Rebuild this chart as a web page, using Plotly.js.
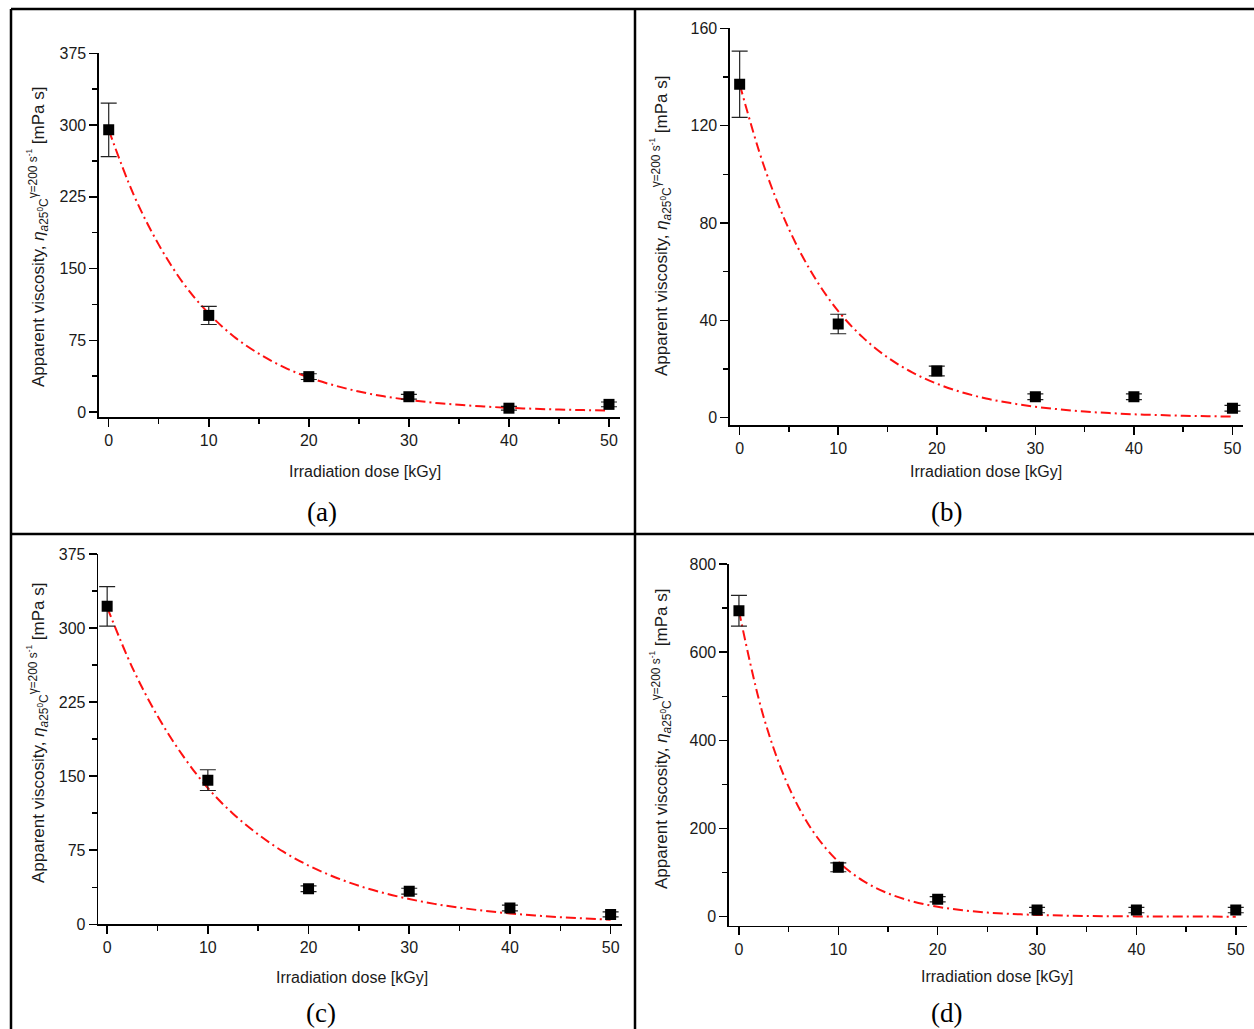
<!DOCTYPE html>
<html>
<head>
<meta charset="utf-8">
<script src="https://cdn.plot.ly/plotly-3.0.1.min.js"></script>
<style>html,body{margin:0;padding:0;background:#fff;}#chart{width:1254px;height:1029px;}</style>
</head>
<body>
<div id="chart"></div>
<script>
// ---- data ----
const doses = [0, 10, 20, 30, 40, 50];

const viscA = [295, 101, 37, 16, 4, 8];
const errA  = [28, 9.5, 3, 2.5, 2, 2.5];
const viscB = [137, 38.5, 19.2, 8.6, 8.6, 3.9];
const errB  = [13.6, 4, 2, 1.2, 1.2, 1.2];
const viscC = [322, 146, 36, 33.5, 16.5, 10];
const errC  = [20, 10.5, 3, 3, 3, 2.5];
const viscD = [694, 112, 39.5, 15, 15, 15];
const errD  = [35, 10, 6, 6, 6, 6];

const fitDose = [0, 2.5, 5, 7.5, 10, 12.5, 15, 17.5, 20, 22.5, 25, 27.5, 30, 32.5, 35, 37.5, 40, 42.5, 45, 47.5, 50];
const fitA = [295, 227, 175, 134, 103, 79, 61, 47, 36, 28, 21.4, 16.4, 12.7, 9.7, 7.5, 5.8, 4.4, 3.4, 2.6, 2.0, 1.6];
const fitB = [137, 103, 77.5, 58.3, 43.8, 33.0, 24.8, 18.6, 14.0, 10.5, 7.9, 6.0, 4.5, 3.4, 2.5, 1.9, 1.4, 1.1, 0.8, 0.6, 0.46];
const fitC = [321, 260, 211, 171, 138, 112, 91, 73.5, 59.5, 48.2, 39.0, 31.6, 25.6, 20.7, 16.8, 13.6, 11.0, 8.9, 7.2, 5.9, 4.7];
const fitD = [694, 452, 295, 192, 125, 81.4, 53, 34.5, 22.5, 14.7, 9.5, 6.2, 4.0, 2.6, 1.7, 1.1, 0.73, 0.48, 0.31, 0.2, 0.13];

const xTicks = [0, 10, 20, 30, 40, 50];
const yTicksA = [0, 75, 150, 225, 300, 375];
const yTicksB = [0, 40, 80, 120, 160];
const yTicksC = [0, 75, 150, 225, 300, 375];
const yTicksD = [0, 200, 400, 600, 800];

const panelLabels = ['(a)', '(b)', '(c)', '(d)'];
const xTitle = 'Irradiation dose [kGy]';
const yTitle = 'Apparent viscosity, <i>η</i><sub><i>a</i>25<sup>0</sup>C</sub><sup>γ=200 s<sup>-1</sup></sup> [mPa s]';

// ---- layout helpers ----
const W = 1254, H = 1029;
const X = p => p / W;
const Y = p => 1 - p / H;

const panels = [
  {v: viscA, e: errA, f: fitA, yt: yTicksA, xr: [-0.97, 51.1], yr: [-5.2, 375], ymin: 37.5,
   px: [99, 620], py: [53.3, 417], ytx: 37, yty: 237, xtx: 365, xty: 472, lx: 322, ly: 512},
  {v: viscB, e: errB, f: fitB, yt: yTicksB, xr: [-0.98, 51.1], yr: [-3, 160], ymin: 20,
   px: [730, 1243.3], py: [28.3, 425], ytx: 661, yty: 226, xtx: 986, xty: 472, lx: 946, ly: 512},
  {v: viscC, e: errC, f: fitC, yt: yTicksC, xr: [-0.88, 51.1], yr: [0, 375], ymin: 37.5,
   px: [98.3, 621.7], py: [554, 924.3], ytx: 37, yty: 733, xtx: 352, xty: 977, lx: 321, ly: 1013},
  {v: viscD, e: errD, f: fitD, yt: yTicksD, xr: [-1.0, 51.1], yr: [-20.4, 800], ymin: 100,
   px: [729, 1246.7], py: [564, 925.7], ytx: 660, yty: 739, xtx: 997, xty: 976, lx: 946, ly: 1013}
];

const tickFont = {family: 'Liberation Sans, Arial, sans-serif', size: 16, color: '#1a1a1a'};
const traces = [];
const layout = {
  width: W, height: H,
  margin: {l: 0, r: 0, t: 0, b: 0},
  paper_bgcolor: '#fff', plot_bgcolor: 'rgba(0,0,0,0)',
  showlegend: false,
  annotations: [],
  shapes: []
};

panels.forEach((p, i) => {
  const n = i + 1;
  const xa = 'x' + (n === 1 ? '' : n), ya = 'y' + (n === 1 ? '' : n);
  traces.push({
    x: fitDose, y: p.f, xaxis: xa, yaxis: ya, type: 'scatter', mode: 'lines',
    line: {color: '#f11', width: 2, dash: '10px,4px,2px,4px', shape: 'spline'},
    hoverinfo: 'skip'
  });
  traces.push({
    x: doses, y: p.v, xaxis: xa, yaxis: ya, type: 'scatter', mode: 'markers',
    marker: {symbol: 'square', size: 11, color: '#000'},
    error_y: {type: 'data', array: p.e, visible: true, color: '#222', thickness: 1.2, width: 8}
  });
  const axBase = {
    showline: true, linecolor: '#000', linewidth: 1.6,
    ticks: 'outside', ticklen: 8, tickwidth: 1.5, tickcolor: '#000',
    showgrid: false, zeroline: false, tickfont: tickFont, fixedrange: true
  };
  layout['xaxis' + (n === 1 ? '' : n)] = Object.assign({}, axBase, {
    domain: [X(p.px[0]), X(p.px[1])], range: p.xr, anchor: ya,
    tickmode: 'array', tickvals: xTicks,
    minor: {dtick: 5, tick0: 0, ticks: 'outside', ticklen: 5, tickwidth: 1.5, tickcolor: '#000'}
  });
  layout['yaxis' + (n === 1 ? '' : n)] = Object.assign({}, axBase, {
    domain: [Y(p.py[1]), Y(p.py[0])], range: p.yr, anchor: xa,
    tickmode: 'array', tickvals: p.yt,
    minor: {dtick: p.ymin, tick0: 0, ticks: 'outside', ticklen: 5, tickwidth: 1.5, tickcolor: '#000'}
  });
  layout.annotations.push({
    text: yTitle, xref: 'paper', yref: 'paper', x: X(p.ytx), y: Y(p.yty),
    xanchor: 'center', yanchor: 'middle', textangle: -90, showarrow: false,
    font: {family: 'Liberation Sans, Arial, sans-serif', size: 17, color: '#1a1a1a'}
  });
  layout.annotations.push({
    text: xTitle, xref: 'paper', yref: 'paper', x: X(p.xtx), y: Y(p.xty),
    xanchor: 'center', yanchor: 'middle', showarrow: false,
    font: {family: 'Liberation Sans, Arial, sans-serif', size: 16, color: '#1a1a1a'}
  });
  layout.annotations.push({
    text: panelLabels[i], xref: 'paper', yref: 'paper', x: X(p.lx), y: Y(p.ly),
    xanchor: 'center', yanchor: 'middle', showarrow: false,
    font: {family: 'Liberation Serif, Times New Roman, serif', size: 27, color: '#000'}
  });
});

// panel frame lines
const frame = [
  [11, 9, 1254, 9], [11, 9, 11, 1029], [635, 9, 635, 1029], [11, 534, 1254, 534]
];
frame.forEach(f => layout.shapes.push({
  type: 'line', xref: 'paper', yref: 'paper',
  x0: X(f[0]), y0: Y(f[1]), x1: X(f[2]), y1: Y(f[3]),
  line: {color: '#000', width: 2.5}
}));

Plotly.newPlot('chart', traces, layout, {staticPlot: true, displayModeBar: false});
</script>
</body>
</html>
